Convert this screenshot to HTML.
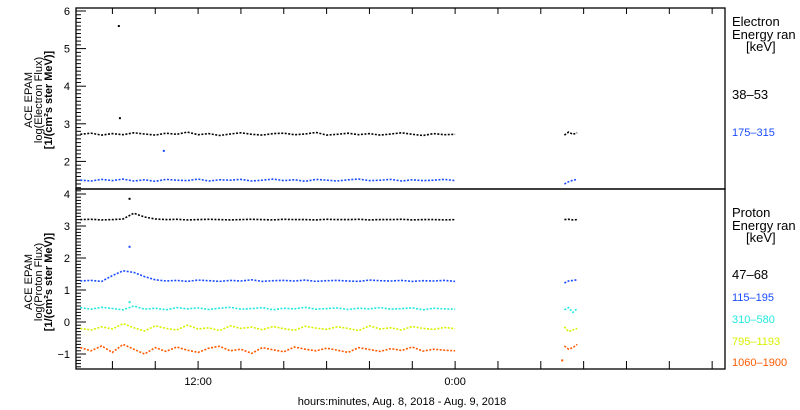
<!DOCTYPE html>
<html><head><meta charset="utf-8"><style>
html,body{margin:0;padding:0;background:#fff;width:800px;height:410px;overflow:hidden}
svg{font-family:"Liberation Sans",sans-serif}
</style></head><body>
<svg id="chart" width="800" height="410" xmlns="http://www.w3.org/2000/svg">
<g id="axes"></g><g id="marks"></g>
<g font-size="11" text-anchor="middle">
<text transform="translate(32,100) rotate(-90)">ACE EPAM</text>
<text transform="translate(42,100) rotate(-90)">log(Electron Flux)</text>
<text transform="translate(52,100) rotate(-90)" font-weight="bold">[1/(cm²s ster MeV)]</text>
</g>
<g font-size="11" text-anchor="middle">
<text transform="translate(32,282) rotate(-90)">ACE EPAM</text>
<text transform="translate(42,282) rotate(-90)">log(Proton Flux)</text>
<text transform="translate(52,282) rotate(-90)" font-weight="bold">[1/(cm²s ster MeV)]</text>
</g>
<g font-size="13">
<text x="732" y="26">Electron</text><text x="732" y="39">Energy ran</text><text x="746" y="51">[keV]</text>
<text x="732" y="99" fill="#000">38–53</text>
<text x="732" y="136" fill="#1a4cff" font-size="11">175–315</text>
</g>
<g font-size="13">
<text x="732" y="217">Proton</text><text x="732" y="230">Energy ran</text><text x="746" y="242">[keV]</text>
<text x="732" y="279" fill="#000">47–68</text>
<text x="732" y="301" fill="#1a4cff" font-size="11">115–195</text>
<text x="732" y="323" fill="#22e8e0" font-size="11">310–580</text>
<text x="732" y="345" fill="#d8f000" font-size="11">795–1193</text>
<text x="732" y="366" fill="#ff5a00" font-size="11">1060–1900</text>
</g>
<text x="402" y="405" font-size="11" text-anchor="middle">hours:minutes, Aug.  8, 2018 - Aug.  9, 2018</text>
</svg>
<script>
const times=[6.5,7,7.5,8,8.5,9,9.5,10,10.5,11,11.5,12,12.5,13,13.5,14,14.5,15,15.5,16,16.5,17,17.5,18,18.5,19,19.5,20,20.5,21,21.5,22,22.5,23,23.5,24];
const gapTimes=[29.1,29.3,29.5,29.7];
const e38=[2.72,2.75,2.70,2.74,2.71,2.76,2.73,2.70,2.75,2.72,2.78,2.71,2.74,2.69,2.73,2.76,2.72,2.70,2.74,2.75,2.71,2.73,2.77,2.70,2.72,2.75,2.71,2.74,2.70,2.73,2.76,2.72,2.69,2.74,2.71,2.72];
const e38Gap=[2.70,2.78,2.72,2.76];
const e175=[1.50,1.48,1.52,1.49,1.53,1.48,1.51,1.47,1.52,1.50,1.49,1.53,1.48,1.51,1.50,1.52,1.48,1.50,1.53,1.49,1.51,1.47,1.52,1.50,1.48,1.51,1.53,1.49,1.50,1.52,1.48,1.51,1.49,1.50,1.52,1.49];
const e175Gap=[1.40,1.46,1.50,1.52];
const p47=[3.20,3.21,3.19,3.20,3.22,3.40,3.28,3.22,3.20,3.21,3.19,3.20,3.21,3.20,3.19,3.20,3.21,3.20,3.19,3.21,3.20,3.20,3.19,3.21,3.20,3.20,3.21,3.19,3.20,3.20,3.21,3.19,3.20,3.20,3.19,3.20];
const p47Gap=[3.20,3.21,3.19,3.20];
const p115=[1.28,1.30,1.27,1.45,1.60,1.55,1.42,1.32,1.28,1.30,1.27,1.31,1.29,1.27,1.30,1.28,1.32,1.27,1.29,1.30,1.28,1.31,1.27,1.29,1.30,1.28,1.27,1.31,1.29,1.28,1.30,1.27,1.29,1.28,1.30,1.27];
const p115Gap=[1.22,1.28,1.30,1.32];
const p310=[0.45,0.40,0.46,0.42,0.38,0.50,0.40,0.43,0.38,0.45,0.41,0.44,0.39,0.43,0.46,0.40,0.42,0.45,0.38,0.43,0.41,0.46,0.40,0.42,0.44,0.39,0.43,0.41,0.45,0.40,0.42,0.44,0.38,0.43,0.41,0.40];
const p310Gap=[0.38,0.45,0.30,0.42];
const p795=[-0.20,-0.25,-0.15,-0.22,-0.05,-0.18,-0.28,-0.12,-0.20,-0.25,-0.10,-0.22,-0.18,-0.27,-0.12,-0.20,-0.16,-0.24,-0.14,-0.21,-0.26,-0.13,-0.19,-0.23,-0.15,-0.20,-0.27,-0.12,-0.22,-0.18,-0.25,-0.14,-0.20,-0.23,-0.17,-0.21];
const p795Gap=[-0.15,-0.30,-0.25,-0.20];
const p1060=[-0.80,-0.90,-0.75,-0.95,-0.70,-0.85,-1.00,-0.80,-0.92,-0.78,-0.88,-0.95,-0.82,-0.76,-0.90,-0.85,-0.98,-0.80,-0.87,-0.93,-0.78,-0.85,-0.90,-0.82,-0.88,-0.95,-0.80,-0.86,-0.92,-0.83,-0.89,-0.78,-0.91,-0.85,-0.88,-0.90];
const p1060Gap=[-0.75,-0.85,-0.80,-0.70];
const spikeTimes=[8.3,8.35,10.4,8.8,8.8,8.8,29.0];
const spikeVals=[5.6,3.15,2.28,3.85,2.35,0.62,-1.2];
const spikePanel=["e","e","e","p","p","p","p"];
const spikeColors=["#000","#000","#1a4cff","#000","#1a4cff","#22e8e0","#ff5a00"];
const yTicksE=["2","3","4","5","6"];
const yTicksP=["-1","0","1","2","3","4"];
const xTickLabels=["12:00","0:00"];
const xTickLabelTimes=[12,24];

const NS="http://www.w3.org/2000/svg";
const X0=76,X1=725,T0=6.3,T1=36.6;
const x=t=>X0+(t-T0)/(T1-T0)*(X1-X0);
const yE=v=>11+(6-v)*37.6;
const yP=v=>194+(4-v)*32;
function mk(tag,attrs,parent){const el=document.createElementNS(NS,tag);for(const k in attrs)el.setAttribute(k,attrs[k]);parent.appendChild(el);return el;}
const axes=document.getElementById('axes'),marks=document.getElementById('marks');
let f=mk('rect',{x:X0,y:8,width:X1-X0,height:181,fill:'none',stroke:'#000','stroke-width':1.3},axes);


f=mk('rect',{x:X0,y:189,width:X1-X0,height:180,fill:'none',stroke:'#000','stroke-width':1.3},axes);


for(let v=1.3;v<=6.05;v+=0.1){const yy=yE(v);if(yy<8||yy>189)continue;const maj=Math.abs(v-Math.round(v))<0.01;
 mk('line',{x1:X0,x2:X0+(maj?10:5),y1:yy,y2:yy,stroke:'#000'},axes);}
yTicksE.forEach(s=>{const t=mk('text',{x:X0-6,y:yE(+s)+4,'font-size':11,'text-anchor':'end'},axes);t.textContent=s;
 
 });
for(let v=-1.4;v<=4.15;v+=0.1){const yy=yP(v);if(yy<189||yy>369)continue;const maj=Math.abs(v-Math.round(v))<0.01;
 mk('line',{x1:X0,x2:X0+(maj?10:5),y1:yy,y2:yy,stroke:'#000'},axes);}
yTicksP.forEach(s=>{const t=mk('text',{x:X0-6,y:yP(+s)+4,'font-size':11,'text-anchor':'end'},axes);t.textContent=s.replace('-','−');
 
 });
for(let t=8;t<T1;t+=2){const xx=x(t);mk('line',{x1:xx,x2:xx,y1:369,y2:361,stroke:'#000'},axes);mk('line',{x1:xx,x2:xx,y1:8,y2:14,stroke:'#000'},axes);}
xTickLabels.forEach((s,i)=>{const t=mk('text',{x:x(xTickLabelTimes[i]),y:385,'font-size':11,'text-anchor':'middle'},axes);t.textContent=s;
 
 });
function series(name,vals,gap,yf,color){
 const pts=times.map((t,i)=>x(t).toFixed(1)+','+yf(vals[i]).toFixed(1)).join(' ');
 const p=mk('polyline',{points:pts,fill:'none',stroke:color,'stroke-width':1.6,'stroke-dasharray':'2 1.5'},marks);
 
 
 const g=gapTimes.map((t,i)=>x(t).toFixed(1)+','+yf(gap[i]).toFixed(1)).join(' ');
 const q=mk('polyline',{points:g,fill:'none',stroke:color,'stroke-width':1.6,'stroke-dasharray':'2 1.5'},marks);
 
 
}
series('electron-38-53',e38,e38Gap,yE,'#000');
series('electron-175-315',e175,e175Gap,yE,'#1a4cff');
series('proton-47-68',p47,p47Gap,yP,'#000');
series('proton-115-195',p115,p115Gap,yP,'#1a4cff');
series('proton-310-580',p310,p310Gap,yP,'#22e8e0');
series('proton-795-1193',p795,p795Gap,yP,'#d8f000');
series('proton-1060-1900',p1060,p1060Gap,yP,'#ff5a00');
spikeTimes.forEach((t,i)=>{const yf=spikePanel[i]==='e'?yE:yP;
 const r=mk('rect',{x:x(t)-1,y:yf(spikeVals[i])-1,width:2,height:2,fill:spikeColors[i]},marks);
 
 });
</script>
</body></html>
